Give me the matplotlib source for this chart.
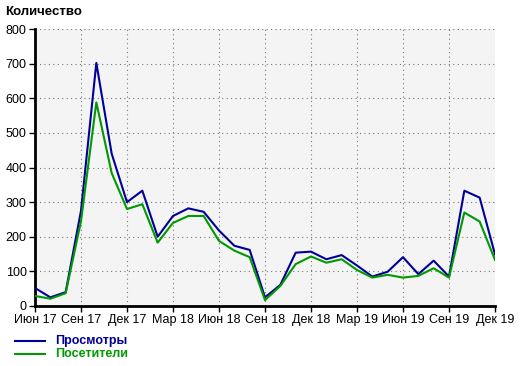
import matplotlib
matplotlib.use("Agg")
import matplotlib.pyplot as plt

plt.rcParams["font.family"] = ["Liberation Sans", "DejaVu Sans"]

# monthly values, Jun 2017 .. Dec 2019
months = list(range(31))
views = [52, 25, 40, 275, 702, 440, 300, 333, 200, 260, 282, 272,
         218, 174, 162, 25, 61, 154, 157, 135, 147, 117, 85, 99,
         141, 92, 131, 85, 333, 313, 149]
visitors = [29, 21, 37, 245, 588, 384, 280, 294, 183, 240, 260, 260,
            188, 160, 141, 17, 58, 121, 143, 125, 135, 104, 82, 90,
            82, 87, 109, 82, 270, 244, 133]
tick_labels = ["Июн 17", "Сен 17", "Дек 17", "Мар 18", "Июн 18", "Сен 18",
               "Дек 18", "Мар 19", "Июн 19", "Сен 19", "Дек 19"]
y_ticks = [0, 100, 200, 300, 400, 500, 600, 700, 800]

blue = "#000099"
green = "#009900"

fig = plt.figure(figsize=(5.2, 3.66), dpi=100)
ax = fig.add_axes([35 / 520, 60 / 366, 460 / 520, 277 / 366])
ax.set_facecolor("#f4f4f4")

ax.plot(months, views, color=blue, lw=1.5, zorder=3)
ax.plot(months, visitors, color=green, lw=1.5, zorder=3)

ax.set_xlim(0, 30)
ax.set_ylim(0, 800)
ax.set_xticks(months[::3])
ax.set_xticklabels(tick_labels, fontsize=9)
ax.set_yticks(y_ticks)
ax.set_yticklabels([str(v) for v in y_ticks], fontsize=9)
ax.tick_params(direction="out", length=4, width=1, pad=2)

ax.grid(True, color="#777777", linestyle=(0, (1, 3)), linewidth=0.8)
for s in ["top", "right"]:
    ax.spines[s].set_visible(False)
for s in ["left", "bottom"]:
    ax.spines[s].set_linewidth(2)

# title
fig.text(5 / 520, 1 - 12 / 366, "Количество", fontsize=9.5, fontweight="bold",
         va="center", ha="left")

# legend
fig.add_artist(plt.Line2D([15 / 520, 45 / 520], [1 - 341 / 366] * 2, color=blue, lw=1.5))
fig.add_artist(plt.Line2D([15 / 520, 45 / 520], [1 - 354 / 366] * 2, color=green, lw=1.5))
fig.text(55 / 520, 1 - 341 / 366, "Просмотры", color=blue, fontsize=9,
         fontweight="bold", va="center", ha="left")
fig.text(55 / 520, 1 - 354 / 366, "Посетители", color=green, fontsize=9,
         fontweight="bold", va="center", ha="left")

fig.savefig("out.png", dpi=100)
